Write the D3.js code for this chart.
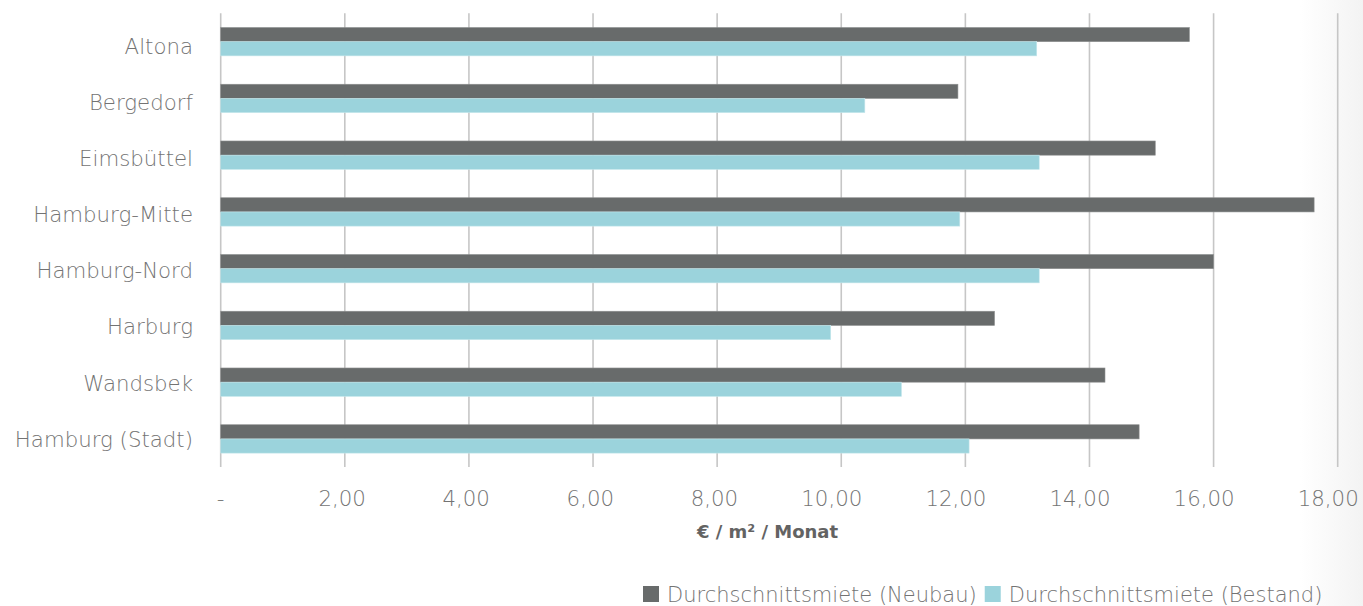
<!DOCTYPE html>
<html>
<head>
<meta charset="utf-8">
<script src="https://cdn.jsdelivr.net/npm/d3@7"></script>
<style>
  html, body { margin: 0; padding: 0; background: #fff; }
  svg { display: block; }
  text { font-family: "DejaVu Sans", Lato, sans-serif; }
</style>
</head>
<body>
<svg id="chart" width="1363" height="606"></svg>
<script>
// Bezirke (top to bottom)
const districts = ["Altona", "Bergedorf", "Eimsbüttel", "Hamburg-Mitte", "Hamburg-Nord", "Harburg", "Wandsbek", "Hamburg (Stadt)"];
// Average rent in €/m²/month
const neubau  = [15.61, 11.88, 15.06, 17.62, 16.00, 12.47, 14.25, 14.80];
const bestand = [13.15, 10.38, 13.19, 11.91, 13.19, 9.83, 10.97, 12.06];
const seriesNames = ["Durchschnittsmiete (Neubau)", "Durchschnittsmiete (Bestand)"];
const tickValues = [0, 2, 4, 6, 8, 10, 12, 14, 16, 18];
const axisTitle = "€ / m² / Monat";

const colors = ["#686b6b", "#9bd3dc"];
const textColor = "#737373";

const svg = d3.select("#chart");

// soft shading at the right edge
const defs = svg.append("defs");
const grad = defs.append("linearGradient").attr("id", "edge").attr("x1", 0).attr("x2", 1);
grad.append("stop").attr("offset", 0).attr("stop-color", "#ffffff");
grad.append("stop").attr("offset", 1).attr("stop-color", "#f3f3f3");
svg.append("rect").attr("x", 1300).attr("y", 0).attr("width", 63).attr("height", 606).attr("fill", "url(#edge)");

const x = d3.scaleLinear().domain([0, 18]).range([220.7, 1337.7]);
const y = d3.scaleBand().domain(districts).range([13.3, 467.3]).paddingInner(0.5).paddingOuter(0.25);
const sub = d3.scaleBand().domain([0, 1]).range([0, y.bandwidth()]);
// vertical centres of the category names
const yLabel = d3.scalePoint().domain(districts).range([46.2, 439]);

// vertical gridlines
svg.append("g").selectAll("line").data(tickValues).join("line")
  .attr("x1", d => x(d)).attr("x2", d => x(d))
  .attr("y1", 13.3).attr("y2", 467)
  .attr("stroke", "#c6c6c6").attr("stroke-width", 1.6);

// bars
const rows = districts.map((d, i) => ({ name: d, values: [neubau[i], bestand[i]] }));
const g = svg.append("g").selectAll("g").data(rows).join("g")
  .attr("transform", d => `translate(0,${y(d.name)})`);
g.selectAll("rect").data(d => d.values.map((v, k) => ({ v, k }))).join("rect")
  .attr("x", x(0))
  .attr("y", d => sub(d.k))
  .attr("width", d => x(d.v) - x(0))
  .attr("height", sub.bandwidth())
  .attr("fill", d => colors[d.k])
  .attr("stroke", d => d.k === 0 ? "#8d8f8f" : "#c4e6eb")
  .attr("stroke-width", 0.6);

// category labels
svg.append("g").selectAll("text").data(districts).join("text")
  .attr("x", 193)
  .attr("y", d => yLabel(d))
  .attr("dy", "0.36em")
  .attr("text-anchor", "end")
  .attr("font-size", 21.3)
  .attr("font-weight", 200)
  .attr("fill", textColor)
  .text(d => d);

// x axis labels (accounting style: right padded, dash for zero)
const fmt = v => v === 0 ? "-" : d3.format(".2f")(v).replace(".", ",");
svg.append("g").selectAll("text").data(tickValues).join("text")
  .attr("x", d => d === 0 ? x(d) : x(d) + 21)
  .attr("y", 506)
  .attr("text-anchor", d => d === 0 ? "middle" : "end")
  .attr("font-size", 21.3)
  .attr("font-weight", 200)
  .attr("fill", textColor)
  .text(fmt);

// axis title
svg.append("text")
  .attr("x", 767.5).attr("y", 537.5)
  .attr("text-anchor", "middle")
  .attr("font-size", 18)
  .attr("font-weight", 700)
  .attr("fill", "#636363")
  .text(axisTitle);

// legend
const legend = svg.append("g").attr("transform", "translate(643,586)");
let cx = 0;
seriesNames.forEach((name, i) => {
  const item = legend.append("g").attr("transform", `translate(${cx},0)`);
  item.append("rect").attr("width", 16).attr("height", 16).attr("fill", colors[i]);
  const t = item.append("text")
    .attr("x", 24).attr("y", 15.7)
    .attr("font-size", 21)
    .attr("font-weight", 200)
    .attr("fill", textColor)
    .text(name);
  cx += 24 + t.node().getComputedTextLength() + 8;
});
</script>
</body>
</html>
